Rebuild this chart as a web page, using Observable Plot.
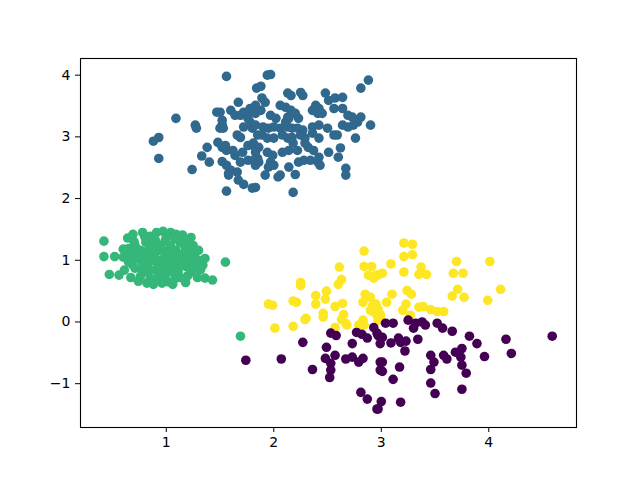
<!DOCTYPE html>
<html>
<head>
<meta charset="utf-8">
<script src="https://cdn.jsdelivr.net/npm/d3@7"></script>
<script src="https://cdn.jsdelivr.net/npm/@observablehq/plot@0.6"></script>
<style>
  html, body { margin: 0; padding: 0; background: #ffffff; }
  #chart { width: 640px; height: 480px; }
</style>
</head>
<body>
<div id="chart"></div>
<script>
// ---- data ----
const clusters = ["cluster 1", "cluster 2", "cluster 3", "cluster 0"];
const clusterColors = ["#31688e", "#35b779", "#fde725", "#440154"];
const xTicks = [1, 2, 3, 4];
const yTicks = [-1, 0, 1, 2, 3, 4];

const blueX = [1.56,1.84,1.88,1.94,1.97,2.13,1.67,1.47,1.50,1.60,1.09,1.27,1.28,0.93,0.88,0.93,1.52,1.50,1.38,1.33,1.40,1.24,1.48,1.52,1.56,1.66,1.52,1.56,1.58,1.66,1.67,1.72,1.80,1.56,1.69,1.76,1.78,1.83,1.72,1.80,1.85,1.69,1.76,1.83,1.64,1.71,1.76,1.85,1.69,1.83,1.89,1.92,2.06,2.11,1.64,1.72,1.78,1.83,1.88,1.97,2.02,2.13,2.11,1.78,1.83,1.90,1.95,2.00,2.06,2.13,1.53,1.52,1.89,1.94,2.00,2.08,2.13,1.55,1.62,1.81,1.86,1.83,1.94,1.99,1.97,1.95,2.00,2.08,1.60,1.58,1.81,1.86,1.92,2.06,2.25,2.27,2.16,2.48,2.51,2.57,2.64,2.81,2.88,2.39,2.42,2.36,2.41,2.45,2.56,2.64,2.69,2.73,2.81,2.78,2.74,2.90,2.16,2.20,2.23,2.14,2.17,2.22,2.27,2.25,2.17,2.29,2.36,2.42,2.50,2.56,2.59,2.64,2.69,2.36,2.42,2.76,2.18,2.14,2.22,2.29,2.32,2.37,2.51,2.62,2.60,2.42,2.41,2.43,2.34,2.28,2.23,2.14,2.20,2.67,2.67,2.18,2.04,1.83];
const blueY = [3.98,3.79,3.82,4.00,4.01,3.71,3.56,3.40,3.40,3.43,3.30,3.19,3.14,2.99,2.93,2.65,3.20,3.14,2.83,2.69,2.59,2.47,2.91,2.83,2.78,3.03,2.60,2.54,2.41,2.43,2.30,2.23,2.17,2.12,3.35,3.30,3.43,3.51,3.16,3.14,3.03,2.99,2.86,2.82,2.70,2.75,2.62,2.65,2.59,2.54,3.63,3.56,3.51,3.48,3.35,3.40,3.46,3.38,3.43,3.35,3.30,3.32,3.24,3.24,3.19,3.16,3.14,3.16,3.14,3.16,3.14,3.27,3.03,2.98,2.98,3.03,2.98,2.86,2.78,2.90,2.83,2.75,2.75,2.70,2.59,2.51,2.54,2.75,2.46,2.38,2.62,2.59,2.38,2.38,3.72,3.67,3.67,3.71,3.59,3.63,3.64,3.79,3.92,3.51,3.46,3.43,3.38,3.38,3.46,3.46,3.35,3.32,3.32,3.24,3.19,3.19,3.43,3.38,3.30,3.30,3.14,3.14,3.11,3.03,2.99,2.98,3.16,3.19,3.14,3.03,3.03,3.19,3.16,3.06,2.98,2.98,2.90,2.78,2.78,2.90,2.83,2.78,2.75,2.82,2.67,2.67,2.59,2.54,2.62,2.62,2.59,2.51,2.39,2.49,2.38,2.10,2.35,2.18];

const greenX = [0.42,0.42,0.52,0.47,0.56,0.64,0.69,0.78,0.85,0.91,0.97,1.04,1.09,1.15,1.23,0.62,0.65,0.61,0.67,0.74,0.82,0.88,0.96,1.06,1.13,1.18,1.29,1.36,1.43,1.30,1.36,1.34,1.55,0.71,0.76,0.81,0.85,0.90,0.95,0.99,1.04,1.09,1.13,1.18,1.23,0.74,0.81,0.85,0.93,0.99,1.04,1.09,1.15,1.21,1.25,0.71,0.78,0.83,0.90,0.95,1.01,1.06,1.11,1.18,1.24,0.76,0.85,0.93,0.99,0.69,0.83,0.96,1.02,0.90,0.83,1.07,1.13,1.19,0.65,0.69,1.27,1.23,1.28,1.09,0.92,0.87,0.97,1.69,
  0.70,0.88,1.08,1.20,0.78,0.88,1.00,1.15,0.95,1.08,0.78,0.66,0.60,1.30,1.32,1.20,0.88,1.02,0.72,0.60,1.00,0.80,1.26,1.12,0.98];
const greenY = [1.31,1.06,1.06,0.77,0.76,1.36,1.42,1.45,1.39,1.45,1.47,1.45,1.42,1.41,1.37,1.13,0.97,0.84,0.72,0.66,0.63,0.61,0.63,0.61,0.72,0.64,0.72,0.71,0.68,1.16,1.03,0.92,0.97,1.24,1.16,1.29,1.21,1.13,1.24,1.32,1.24,1.16,1.28,1.19,1.13,1.03,1.00,1.08,1.00,1.06,0.97,1.03,0.97,1.03,1.24,0.87,0.84,0.90,0.84,0.90,0.81,0.87,0.81,0.90,0.90,0.74,0.71,0.74,0.71,1.08,0.81,1.15,1.16,1.32,1.16,1.08,1.06,1.29,1.19,0.92,1.03,0.81,0.87,0.71,0.94,1.00,0.97,-0.23,
  1.30,1.30,1.35,1.25,1.05,1.18,1.10,1.10,0.80,0.76,0.95,1.00,1.05,1.00,0.85,0.75,0.68,0.65,1.12,1.18,1.38,1.38,1.12,0.92,0.88];

const yellowX = [2.84,2.61,2.84,2.91,2.88,2.93,2.97,2.25,2.25,2.63,2.60,2.39,2.49,2.48,2.39,1.95,1.99,2.18,2.21,2.57,2.64,2.46,2.46,2.65,2.63,2.68,2.85,2.90,2.83,2.92,2.90,2.96,2.97,2.29,2.01,2.18,2.57,2.83,2.79,3.21,3.29,3.21,3.29,3.70,4.01,3.09,3.37,3.35,3.42,3.21,3.01,2.95,3.67,3.76,4.11,3.71,3.66,3.77,3.99,3.24,3.28,3.10,3.05,3.23,3.20,2.95,2.96,2.99,3.35,3.39,3.46,3.52,3.58,3.27,2.99,2.97,2.30,2.67,2.84,2.93];
const yellowY = [1.15,0.89,0.90,0.90,0.76,0.71,0.76,0.64,0.59,0.69,0.61,0.43,0.50,0.37,0.29,0.29,0.27,0.34,0.32,0.25,0.30,0.14,0.08,0.12,0.04,-0.05,0.45,0.40,0.32,0.27,0.19,0.11,0.21,0.04,-0.10,-0.07,-0.09,0.03,-0.05,1.28,1.26,1.06,1.09,0.98,0.98,0.94,0.89,0.77,0.77,0.81,0.79,0.76,0.79,0.79,0.53,0.53,0.42,0.40,0.35,0.51,0.45,0.45,0.32,0.29,0.19,0.29,0.19,0.12,0.24,0.25,0.20,0.17,0.17,0.11,0.08,0.03,0.06,-0.02,-0.05,0.16];

const purpleX = [1.74,2.07,2.27,2.36,2.53,2.58,2.49,2.48,2.53,2.53,2.52,2.57,2.67,2.73,2.79,2.83,2.73,2.77,2.82,2.87,2.93,2.96,2.81,2.87,2.96,2.99,2.99,3.04,3.11,3.25,3.32,3.38,3.41,3.30,3.52,3.57,3.66,3.82,3.89,4.16,4.59,4.21,3.96,2.97,3.01,2.99,3.09,3.16,3.18,3.23,3.34,3.22,3.46,3.49,3.46,3.58,3.61,3.69,3.75,3.74,3.75,3.79,3.01,3.01,3.17,3.11,3.46,3.50,3.75,3.00,2.97,3.18];
const purpleY = [-0.62,-0.60,-0.33,-0.77,-0.18,-0.22,-0.41,-0.59,-0.67,-0.78,-0.90,-0.54,-0.60,-0.57,-0.65,-0.59,-0.35,-0.17,-0.20,-0.26,-0.09,-0.18,-1.14,-1.25,-1.41,-0.65,-0.78,-0.02,-0.02,0.03,-0.02,0.00,-0.05,-0.10,-0.02,-0.10,-0.15,-0.23,-0.35,-0.28,-0.23,-0.51,-0.56,-0.22,-0.25,-0.35,-0.34,-0.26,-0.33,-0.31,-0.28,-0.47,-0.54,-0.65,-0.77,-0.54,-0.60,-0.49,-0.43,-0.57,-0.70,-0.83,-0.65,-0.80,-0.73,-0.93,-0.99,-1.16,-1.09,-1.29,-1.41,-1.30];

// ---- table built from the arrays ----
const series = [
  {name: clusters[0], xs: blueX, ys: blueY},
  {name: clusters[1], xs: greenX, ys: greenY},
  {name: clusters[2], xs: yellowX, ys: yellowY},
  {name: clusters[3], xs: purpleX, ys: purpleY}
];
const points = series.flatMap(s => s.xs.map((x, i) => ({x, y: s.ys[i], cluster: s.name})));

const fmt = d => (d < 0 ? "\u2212" + Math.abs(d) : String(d));

const chart = Plot.plot({
  width: 640,
  height: 480,
  marginLeft: 80,
  marginRight: 64,
  marginTop: 58,
  marginBottom: 53,
  style: {fontFamily: "DejaVu Sans, sans-serif", fontSize: "14px", background: "#ffffff", color: "#000000"},
  x: {domain: [0.202, 4.816], ticks: xTicks, tickFormat: fmt, tickSize: 5, tickPadding: 5, label: null},
  y: {domain: [-1.71, 4.27], ticks: yTicks, tickFormat: fmt, tickSize: 5, tickPadding: 5, label: null},
  color: {type: "ordinal", domain: clusters, range: clusterColors},
  marks: [
    Plot.dot(points, {x: "x", y: "y", fill: "cluster", r: 4.8}),
    Plot.frame({stroke: "#000000", strokeWidth: 1.1})
  ]
});
document.getElementById("chart").appendChild(chart);
</script>
</body>
</html>
